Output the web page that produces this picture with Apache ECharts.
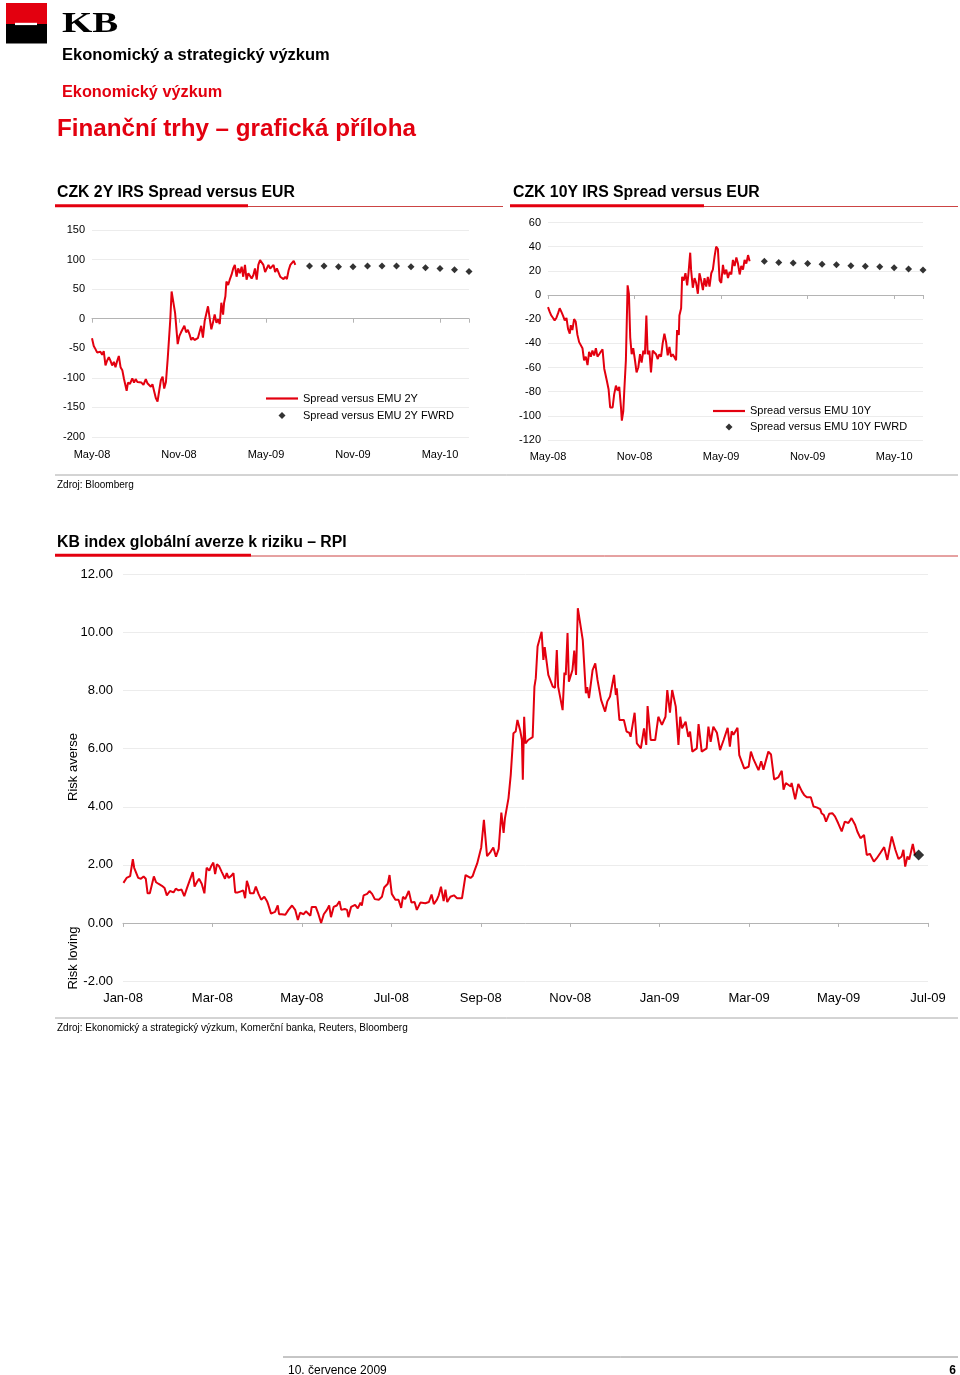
<!DOCTYPE html>
<html><head><meta charset="utf-8">
<script src="https://cdn.jsdelivr.net/npm/echarts@6/dist/echarts.min.js"></script>
<style>html,body{margin:0;padding:0;background:#fff}#c{width:960px;height:1375px}</style>
</head><body><div id="c"></div>
<script>
// ---------- tick labels ----------
const irsTickLabels = ['May-08', 'Nov-08', 'May-09', 'Nov-09', 'May-10'];
const rpiTickLabels = ['Jan-08', 'Mar-08', 'May-08', 'Jul-08', 'Sep-08', 'Nov-08', 'Jan-09', 'Mar-09', 'May-09', 'Jul-09'];
const seriesNames = ['Spread versus EMU 2Y', 'Spread versus EMU 2Y FWRD', 'Spread versus EMU 10Y', 'Spread versus EMU 10Y FWRD'];

// ---------- CZK 2Y spread (months since May-08, bp) ----------
const spread2yMonths = [0.00,0.12,0.23,0.35,0.46,0.58,0.70,0.81,0.93,1.04,1.16,1.27,1.39,1.51,1.62,1.74,1.85,1.97,2.09,2.20,2.32,2.39,2.48,2.62,2.78,2.90,3.01,3.13,3.25,3.41,3.55,3.71,3.82,3.94,4.06,4.17,4.29,4.40,4.52,4.64,4.75,4.87,4.98,5.10,5.22,5.33,5.40,5.49,5.61,5.73,5.82,5.91,6.03,6.14,6.26,6.37,6.49,6.61,6.72,6.84,6.95,7.07,7.19,7.30,7.53,7.65,7.77,7.88,8.00,8.11,8.23,8.34,8.46,8.58,8.69,8.81,8.92,9.04,9.11,9.20,9.27,9.39,9.50,9.62,9.74,9.85,9.97,10.08,10.20,10.32,10.43,10.55,10.66,10.78,10.89,11.01,11.13,11.24,11.36,11.47,11.59,11.71,11.82,11.94,12.05,12.17,12.29,12.40,12.52,12.63,12.75,12.87,12.98,13.10,13.21,13.33,13.44,13.56,13.68,13.79,13.91,14.02];
const spread2yValues = [-33,-46,-51,-57,-59,-56,-61,-55,-79,-71,-65,-71,-79,-73,-82,-71,-63,-82,-87,-101,-98,-122,-108,-110,-101,-108,-102,-107,-110,-108,-112,-102,-109,-112,-115,-111,-123,-134,-140,-121,-104,-98,-118,-107,-68,-65,-1,46,44,10,7,-43,-29,-23,-26,-12,-23,-19,-26,-36,-32,-36,-36,-33,-12,-32,-4,-1,21,2,-18,-7,7,-7,-1,-9,27,7,27,38,63,57,66,74,85,91,71,85,77,88,71,91,66,77,74,68,74,85,66,91,99,100,91,79,82,91,85,82,91,79,85,88,71,68,67,71,67,82,91,88,98,91];
const fwrd2yMonths = [15,16,17,18,19,20,21,22,23,24,25,26];
const fwrd2yValues = [89,89,88,88,89,89,89,88,86,85,83,80];

// ---------- CZK 10Y spread (months since May-08, bp) ----------
const spread10yMonths = [0.00,0.12,0.23,0.35,0.46,0.58,0.70,0.81,0.93,1.04,1.16,1.28,1.39,1.51,1.58,1.69,1.81,1.92,2.04,2.16,2.27,2.39,2.50,2.62,2.74,2.85,2.97,3.08,3.20,3.32,3.43,3.55,3.66,3.78,3.90,4.01,4.08,4.20,4.31,4.48,4.59,4.71,4.82,4.94,5.06,5.12,5.22,5.29,5.40,5.52,5.61,5.70,5.80,5.91,6.03,6.14,6.26,6.38,6.49,6.61,6.72,6.82,6.91,7.03,7.14,7.26,7.37,7.49,7.61,7.72,7.84,7.95,8.07,8.19,8.30,8.42,8.53,8.65,8.77,8.88,8.95,9.07,9.11,9.23,9.30,9.41,9.53,9.65,9.74,9.86,9.92,10.04,10.16,10.27,10.39,10.50,10.62,10.74,10.85,10.97,11.08,11.20,11.32,11.43,11.55,11.66,11.78,11.90,12.01,12.13,12.24,12.36,12.48,12.59,12.71,12.82,12.94,13.06,13.17,13.29,13.40,13.52,13.63,13.75,13.87,13.98];
const spread10yValues = [-10,-14,-17,-19,-21,-19,-15,-11,-14,-17,-21,-19,-28,-32,-25,-29,-20,-22,-33,-39,-40,-44,-54,-51,-58,-47,-51,-46,-50,-44,-51,-49,-47,-45,-61,-60,-71,-78,-93,-93,-82,-75,-79,-76,-93,-104,-96,-79,-54,8,1,-35,-49,-44,-54,-64,-60,-49,-56,-46,-49,-17,-49,-46,-64,-46,-47,-49,-53,-49,-51,-40,-32,-39,-50,-43,-51,-49,-50,-54,-29,-33,-17,-11,15,12,18,8,18,35,21,6,14,10,1,18,12,4,14,7,15,7,18,21,32,40,38,12,10,25,17,21,14,19,17,29,24,31,26,17,24,21,29,26,33,28];
const fwrd10yMonths = [15,16,17,18,19,20,21,22,23,24,25,26];
const fwrd10yValues = [28,27,26.5,26,25.5,25,24.3,23.7,23.4,22.6,21.5,20.7];

// ---------- KB RPI (months since Jan-08) ----------
const rpiMonths = [0.01,0.08,0.16,0.19,0.22,0.25,0.29,0.34,0.40,0.46,0.51,0.55,0.60,0.64,0.69,0.74,0.79,0.87,0.93,0.98,1.05,1.13,1.18,1.24,1.31,1.37,1.43,1.50,1.56,1.60,1.65,1.70,1.76,1.82,1.87,1.93,1.97,2.02,2.06,2.10,2.15,2.21,2.25,2.28,2.32,2.36,2.42,2.47,2.51,2.57,2.62,2.69,2.73,2.77,2.81,2.84,2.92,2.97,3.03,3.09,3.16,3.22,3.25,3.31,3.40,3.46,3.49,3.55,3.63,3.70,3.78,3.85,3.91,3.96,4.04,4.09,4.13,4.19,4.22,4.31,4.37,4.43,4.49,4.56,4.61,4.65,4.71,4.78,4.84,4.88,4.96,5.01,5.04,5.10,5.19,5.25,5.31,5.34,5.38,5.46,5.51,5.57,5.63,5.72,5.79,5.84,5.92,5.96,6.01,6.09,6.16,6.22,6.26,6.31,6.39,6.45,6.52,6.57,6.65,6.76,6.84,6.90,6.95,7.02,7.06,7.11,7.17,7.21,7.25,7.32,7.40,7.47,7.58,7.66,7.77,7.82,7.86,7.92,8.01,8.07,8.14,8.22,8.28,8.34,8.40,8.46,8.51,8.54,8.62,8.67,8.73,8.78,8.82,8.88,8.92,8.94,8.97,9.00,9.06,9.16,9.20,9.23,9.27,9.36,9.40,9.43,9.51,9.61,9.66,9.70,9.73,9.83,9.87,9.90,9.94,9.97,10.05,10.09,10.13,10.17,10.28,10.35,10.38,10.42,10.50,10.56,10.61,10.69,10.78,10.83,10.89,10.98,11.02,11.04,11.10,11.20,11.26,11.32,11.35,11.44,11.49,11.58,11.65,11.70,11.73,11.80,11.90,11.97,12.05,12.13,12.17,12.23,12.28,12.36,12.42,12.46,12.50,12.58,12.64,12.68,12.73,12.83,12.87,12.94,13.05,13.09,13.14,13.20,13.28,13.35,13.43,13.52,13.57,13.61,13.65,13.74,13.78,13.81,13.89,13.99,14.04,14.10,14.21,14.27,14.32,14.43,14.49,14.56,14.65,14.73,14.77,14.82,14.93,14.95,15.03,15.10,15.18,15.23,15.29,15.38,15.44,15.51,15.59,15.62,15.67,15.72,15.79,15.86,15.92,15.99,16.07,16.14,16.22,16.29,16.37,16.42,16.49,16.57,16.63,16.70,16.79,16.85,16.93,17.02,17.09,17.19,17.27,17.34,17.41,17.45,17.49,17.54,17.58,17.66,17.71];
const rpiValues = [1.38,1.55,1.61,1.67,2.20,1.90,1.85,1.55,1.52,1.60,1.52,1.02,1.02,1.02,1.60,1.40,1.35,1.28,1.20,0.95,1.10,1.05,1.18,1.12,1.15,0.92,1.20,1.50,1.75,1.25,1.40,1.52,1.35,1.02,1.90,1.80,1.95,2.08,1.68,2.02,1.95,1.75,1.62,1.52,1.72,1.55,1.62,1.72,1.05,1.05,1.08,1.12,0.85,1.45,1.25,1.02,1.02,1.25,1.00,0.80,0.90,0.75,0.62,0.32,0.38,0.60,0.30,0.30,0.28,0.45,0.60,0.45,0.10,0.35,0.30,0.40,0.45,0.25,0.55,0.55,0.30,0.00,0.30,0.45,0.60,0.20,0.55,0.60,0.75,0.45,0.48,0.45,0.20,0.55,0.62,0.50,0.70,0.60,0.95,1.00,1.10,1.00,0.82,0.80,0.90,1.22,1.35,1.65,1.00,0.80,0.80,0.52,0.90,0.82,1.10,0.70,0.72,0.45,0.70,0.68,0.72,0.98,0.65,0.80,0.95,1.25,0.75,1.15,0.72,0.90,0.95,0.85,0.85,1.65,1.55,1.62,1.80,2.05,2.60,3.55,2.30,2.45,2.60,2.28,2.55,3.80,3.10,3.60,4.30,5.10,6.53,6.59,6.99,6.64,6.30,4.93,7.10,6.18,6.30,6.40,8.14,8.43,9.52,10.03,9.06,9.50,8.54,8.14,8.10,9.40,8.14,7.33,8.62,8.54,9.98,8.31,8.71,9.38,8.54,10.84,9.75,7.91,8.12,7.74,8.71,8.94,8.37,7.68,7.28,7.63,7.80,8.54,7.85,8.08,6.99,6.99,6.59,6.55,6.41,7.24,6.18,6.01,6.70,6.13,7.47,6.30,6.30,7.10,6.82,7.10,8.02,7.24,8.02,7.45,6.13,7.10,6.70,6.93,6.41,6.59,5.90,6.01,6.85,5.90,6.01,6.76,6.24,6.76,6.55,5.95,6.30,6.72,6.07,6.60,6.48,6.72,5.78,5.78,5.32,5.38,5.90,5.63,5.26,5.57,5.28,5.90,5.80,4.94,5.01,5.24,4.59,4.82,4.70,4.82,4.26,4.79,4.53,4.41,4.33,4.33,4.01,3.98,3.92,3.78,3.72,3.49,3.76,3.78,3.67,3.44,3.15,3.49,3.44,3.61,3.38,3.15,2.92,3.03,2.34,2.38,2.11,2.22,2.40,2.61,2.17,2.98,2.52,2.20,2.29,2.52,1.94,2.29,2.18,2.72,2.34];
const rpiLastMonths = [17.79];
const rpiLastValues = [2.34];

// ---------- style ----------
const RED = '#e3000f';
const FONT = '"Liberation Sans", Arial, Helvetica, sans-serif';
const LINE_ICON = 'path://M0,0H32V2.2H0Z';
const DIAMOND_ICON = 'path://M5,0L10,5L5,10L0,5Z';
const zip = (a, b) => a.map((x, i) => [x, b[i]]);

function labelAxis(grid, max, interval, labels, fontSize, margin) {
  return {
    gridIndex: grid, type: 'value', min: 0, max: max, interval: interval, position: 'bottom',
    axisLine: { show: false, onZero: false }, axisTick: { show: false }, splitLine: { show: false },
    axisLabel: { fontSize: fontSize, color: '#000', margin: margin, fontFamily: FONT,
      formatter: v => (Math.abs(v / interval - Math.round(v / interval)) < 1e-6 && labels[Math.round(v / interval)]) || '' }
  };
}
function zeroAxis(grid, max, interval) {
  return {
    gridIndex: grid, type: 'value', min: 0, max: max, interval: interval, position: 'bottom',
    axisLine: { show: true, onZero: true, lineStyle: { color: '#b4b4b4', width: 1 } },
    axisTick: { show: true, length: 4, lineStyle: { color: '#b4b4b4' } },
    axisLabel: { show: false }, splitLine: { show: false }
  };
}
function valAxis(grid, min, max, interval, fontSize, margin, fmt) {
  return {
    gridIndex: grid, type: 'value', min: min, max: max, interval: interval,
    axisLine: { show: false, onZero: false }, axisTick: { show: false },
    splitLine: { show: true, lineStyle: { color: '#ececec', width: 1 } },
    axisLabel: { fontSize: fontSize, color: '#000', margin: margin, fontFamily: FONT, formatter: fmt }
  };
}
function txt(x, y, text, font, fill, align, extra) {
  return Object.assign({ type: 'text', x: x, y: y, silent: true,
    style: { text: text, font: font, fill: fill || '#000', textAlign: align || 'left', align: align || 'left',
      textVerticalAlign: 'middle', verticalAlign: 'middle' } }, extra || {});
}
function hline(x1, x2, y, color, w) {
  return { type: 'line', silent: true, shape: { x1: x1, y1: y, x2: x2, y2: y }, style: { stroke: color, lineWidth: w } };
}
function rect(x, y, w, h, color) {
  return { type: 'rect', silent: true, shape: { x: x, y: y, width: w, height: h }, style: { fill: color } };
}

const graphics = [
  rect(6, 3, 41, 21, RED), rect(6, 24, 41, 19.5, '#000'), rect(15, 22.8, 22, 2.3, '#fff'),
  txt(0, 0, 'KB', 'bold 30px "Liberation Serif", serif', '#000', 'left', { x: 62, y: 24, scaleX: 1.3 }),
  txt(62, 55.5, 'Ekonomický a strategický výzkum', 'bold 16.5px ' + FONT, '#000'),
  txt(62, 93, 'Ekonomický výzkum', 'bold 16.3px ' + FONT, RED),
  txt(57, 129, 'Finanční trhy – grafická příloha', 'bold 24.2px ' + FONT, RED),

  txt(57, 193, 'CZK 2Y IRS Spread versus EUR', 'bold 15.8px ' + FONT, '#000'),
  hline(248, 503, 206.5, '#cc4444', 1), rect(55, 204.3, 193, 3, RED),
  txt(513, 193, 'CZK 10Y IRS Spread versus EUR', 'bold 15.8px ' + FONT, '#000'),
  hline(704, 958, 206.5, '#cc4444', 1), rect(510, 204.3, 194, 3, RED),
  hline(55, 958, 475, '#a8a8a8', 1),
  txt(57, 485.5, 'Zdroj: Bloomberg', '10px ' + FONT, '#000'),

  txt(57, 543, 'KB index globální averze k riziku – RPI', 'bold 15.8px ' + FONT, '#000'),
  hline(251, 958, 556, '#cc4444', 1), rect(55, 553.8, 196, 3, RED),
  txt(0, 0, 'Risk averse', '13px ' + FONT, '#000', 'center', { x: 73, y: 767, rotation: Math.PI / 2 }),
  txt(0, 0, 'Risk loving', '13px ' + FONT, '#000', 'center', { x: 73, y: 958, rotation: Math.PI / 2 }),
  hline(55, 958, 1018, '#a8a8a8', 1),
  txt(57, 1028.5, 'Zdroj: Ekonomický a strategický výzkum, Komerční banka, Reuters, Bloomberg', '10px ' + FONT, '#000'),

  hline(283, 958, 1357, '#8c8c8c', 1),
  txt(288, 1370.5, '10. července 2009', '12px ' + FONT, '#000'),
  txt(956, 1370.5, '6', 'bold 12px ' + FONT, '#000', 'right')
];

const chart = echarts.init(document.getElementById('c'), null, { renderer: 'canvas' });
chart.setOption({
  animation: false,
  backgroundColor: '#fff',
  textStyle: { fontFamily: FONT },
  grid: [
    { left: 92, top: 230, width: 377, height: 207, outerBoundsMode: 'none' },
    { left: 548, top: 222.5, width: 375, height: 217.5, outerBoundsMode: 'none' },
    { left: 123, top: 574.5, width: 805, height: 406.5, outerBoundsMode: 'none' }
  ],
  xAxis: [
    labelAxis(0, 26, 6, irsTickLabels, 11, 12), zeroAxis(0, 26, 6),
    labelAxis(1, 26, 6, irsTickLabels, 11, 11), zeroAxis(1, 26, 6),
    labelAxis(2, 18, 2, rpiTickLabels, 13, 11), zeroAxis(2, 18, 2)
  ],
  yAxis: [
    valAxis(0, -200, 150, 50, 11, 7),
    valAxis(1, -120, 60, 20, 11, 7),
    valAxis(2, -2, 12, 2, 13, 10, v => v.toFixed(2))
  ],
  legend: [
    { orient: 'vertical', left: 266, top: 392, padding: 0, itemWidth: 32, itemHeight: 7, itemGap: 4,
      symbolKeepAspect: true, selectedMode: false,
      textStyle: { fontSize: 11, color: '#000', lineHeight: 13, fontFamily: FONT },
      data: [
        { name: seriesNames[0], icon: LINE_ICON, itemStyle: { color: RED, borderWidth: 0 } },
        { name: seriesNames[1], icon: DIAMOND_ICON, itemStyle: { color: '#000', borderWidth: 0 } }
      ] },
    { orient: 'vertical', left: 713, top: 404.5, padding: 0, itemWidth: 32, itemHeight: 7, itemGap: 3,
      symbolKeepAspect: true, selectedMode: false,
      textStyle: { fontSize: 11, color: '#000', lineHeight: 13, fontFamily: FONT },
      data: [
        { name: seriesNames[2], icon: LINE_ICON, itemStyle: { color: RED, borderWidth: 0 } },
        { name: seriesNames[3], icon: DIAMOND_ICON, itemStyle: { color: '#000', borderWidth: 0 } }
      ] }
  ],
  series: [
    { name: seriesNames[0], type: 'line', xAxisIndex: 0, yAxisIndex: 0, data: zip(spread2yMonths, spread2yValues),
      symbol: 'none', lineStyle: { color: RED, width: 2 }, itemStyle: { color: RED } },
    { name: seriesNames[1], type: 'scatter', xAxisIndex: 0, yAxisIndex: 0, data: zip(fwrd2yMonths, fwrd2yValues),
      symbol: 'diamond', symbolSize: 7, itemStyle: { color: '#000' } },
    { name: seriesNames[2], type: 'line', xAxisIndex: 2, yAxisIndex: 1, data: zip(spread10yMonths, spread10yValues),
      symbol: 'none', lineStyle: { color: RED, width: 2 }, itemStyle: { color: RED } },
    { name: seriesNames[3], type: 'scatter', xAxisIndex: 2, yAxisIndex: 1, data: zip(fwrd10yMonths, fwrd10yValues),
      symbol: 'diamond', symbolSize: 7, itemStyle: { color: '#000' } },
    { name: 'RPI', type: 'line', xAxisIndex: 4, yAxisIndex: 2, data: zip(rpiMonths, rpiValues),
      symbol: 'none', lineStyle: { color: RED, width: 2 }, itemStyle: { color: RED } },
    { name: 'RPI last', type: 'scatter', xAxisIndex: 4, yAxisIndex: 2, data: zip(rpiLastMonths, rpiLastValues),
      symbol: 'diamond', symbolSize: 11, itemStyle: { color: '#000' }, z: 5 }
  ],
  graphic: { elements: graphics }
});
</script>
</body></html>
